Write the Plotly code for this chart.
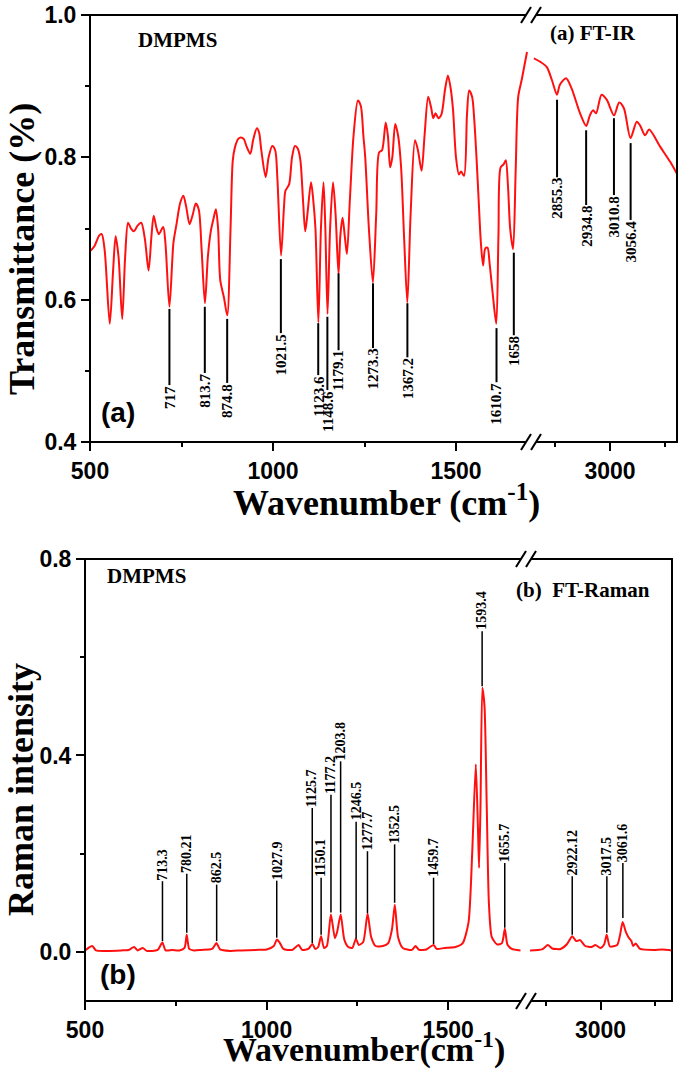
import plotly.graph_objects as go

W, H = 685, 1071

# ---------------- FT-IR data (wavenumber, transmittance) ----------------
ir_left_wn = [500, 512, 525, 532, 540, 554, 563, 570, 578, 588, 596, 604, 612, 620, 630, 640, 650, 660,
              668, 674, 682, 688, 700, 706, 717, 728, 737, 746, 755, 763, 772, 781, 789, 797, 805, 814,
              822, 830, 838, 844, 850, 856, 866, 875, 884, 890, 896, 905, 912, 920, 928, 938, 946, 956,
              962, 968, 980, 988, 998, 1006, 1012, 1022, 1030, 1034, 1044, 1052, 1060, 1068, 1075, 1082,
              1088, 1094, 1104, 1110, 1116, 1124, 1131, 1138, 1143, 1149, 1156, 1164, 1171, 1179, 1184,
              1190, 1196, 1202, 1210, 1220, 1232, 1240, 1247, 1252, 1262, 1273, 1282, 1290, 1298, 1308,
              1314, 1320, 1326, 1334, 1342, 1350, 1358, 1367, 1376, 1388, 1396, 1406, 1414, 1424, 1432,
              1438, 1444, 1452, 1460, 1470, 1478, 1486, 1492, 1500, 1508, 1514, 1522, 1530, 1536, 1544,
              1550, 1556, 1562, 1568, 1574, 1580, 1586, 1592, 1600, 1610, 1616, 1622, 1630, 1636, 1642,
              1648, 1656, 1663, 1670, 1680, 1694]
ir_left_t = [0.668, 0.675, 0.690, 0.692, 0.670, 0.566, 0.640, 0.689, 0.660, 0.573, 0.660, 0.708, 0.700,
             0.696, 0.704, 0.708, 0.685, 0.641, 0.690, 0.718, 0.700, 0.692, 0.702, 0.680, 0.590, 0.680,
             0.708, 0.735, 0.746, 0.730, 0.706, 0.720, 0.735, 0.727, 0.670, 0.595, 0.660, 0.696, 0.715,
             0.727, 0.700, 0.627, 0.603, 0.578, 0.700, 0.795, 0.814, 0.826, 0.828, 0.826, 0.815, 0.805,
             0.825, 0.841, 0.835, 0.810, 0.772, 0.800, 0.816, 0.810, 0.770, 0.662, 0.730, 0.753, 0.762,
             0.800, 0.816, 0.812, 0.795, 0.740, 0.696, 0.720, 0.765, 0.740, 0.700, 0.568, 0.700, 0.765,
             0.700, 0.580, 0.700, 0.765, 0.720, 0.636, 0.690, 0.715, 0.690, 0.664, 0.740, 0.830, 0.880,
             0.872, 0.830, 0.800, 0.700, 0.624, 0.720, 0.807, 0.810, 0.849, 0.830, 0.786, 0.800, 0.847,
             0.830, 0.786, 0.690, 0.596, 0.720, 0.824, 0.810, 0.781, 0.830, 0.885, 0.870, 0.855, 0.862,
             0.855, 0.860, 0.895, 0.915, 0.895, 0.866, 0.800, 0.776, 0.780, 0.774, 0.860, 0.894, 0.885,
             0.852, 0.800, 0.739, 0.680, 0.648, 0.672, 0.673, 0.650, 0.610, 0.566, 0.690, 0.786, 0.790,
             0.796, 0.760, 0.700, 0.671, 0.780, 0.885, 0.910, 0.948]
ir_right_wn = [2792, 2810, 2827, 2841, 2855, 2863, 2880, 2895, 2918, 2935, 2945, 2954, 2962, 2977, 2991,
               3011, 3025, 3038, 3056, 3073, 3082, 3096, 3107, 3137, 3164, 3183]
ir_right_t = [0.939, 0.934, 0.927, 0.909, 0.888, 0.902, 0.911, 0.897, 0.862, 0.844, 0.859, 0.866, 0.862,
              0.888, 0.881, 0.859, 0.877, 0.869, 0.827, 0.850, 0.845, 0.831, 0.839, 0.815, 0.794, 0.777]

# ---------------- FT-Raman data (wavenumber, intensity) ----------------
raman_left_wn = [500, 520, 530, 560, 600, 620, 635, 645, 659, 670, 700, 713, 722, 740, 760, 774, 780, 787,
                 800, 820, 850, 862, 872, 900, 930, 970, 1000, 1020, 1028, 1036, 1046, 1070, 1088, 1098,
                 1115, 1126, 1134, 1142, 1150, 1158, 1166, 1177, 1188, 1194, 1204, 1214, 1225, 1236, 1246,
                 1254, 1266, 1278, 1288, 1300, 1320, 1335, 1345, 1353, 1362, 1375, 1400, 1410, 1420, 1440,
                 1450, 1460, 1468, 1490, 1520, 1540, 1556, 1566, 1576, 1582, 1585, 1589, 1594, 1600, 1606,
                 1612, 1620, 1635, 1648, 1656, 1663, 1675, 1699]
raman_left_i = [0.003, 0.012, 0.003, 0.002, 0.003, 0.004, 0.010, 0.003, 0.008, 0.002, 0.004, 0.019, 0.003,
                0.004, 0.003, 0.008, 0.035, 0.006, 0.003, 0.004, 0.006, 0.018, 0.005, 0.002, 0.003, 0.004,
                0.005, 0.012, 0.025, 0.019, 0.006, 0.004, 0.014, 0.004, 0.006, 0.016, 0.006, 0.010, 0.032,
                0.008, 0.012, 0.076, 0.028, 0.040, 0.076, 0.025, 0.010, 0.008, 0.027, 0.014, 0.020, 0.078,
                0.030, 0.012, 0.012, 0.018, 0.045, 0.096, 0.030, 0.008, 0.004, 0.012, 0.004, 0.005, 0.010,
                0.014, 0.006, 0.008, 0.010, 0.018, 0.060, 0.200, 0.382, 0.250, 0.171, 0.300, 0.538, 0.500,
                0.300, 0.100, 0.030, 0.015, 0.018, 0.047, 0.015, 0.006, 0.003]
raman_right_wn = [2806, 2839, 2855, 2867, 2890, 2908, 2922, 2933, 2944, 2958, 2975, 2986, 3000, 3010, 3017,
                  3026, 3046, 3054, 3061, 3070, 3077, 3085, 3090, 3097, 3109, 3147, 3170, 3197]
raman_right_i = [0.003, 0.005, 0.014, 0.007, 0.006, 0.016, 0.032, 0.022, 0.024, 0.012, 0.010, 0.014, 0.008,
                 0.015, 0.035, 0.011, 0.014, 0.035, 0.061, 0.040, 0.030, 0.022, 0.012, 0.017, 0.006, 0.004,
                 0.005, 0.003]

# ---------------- peak labels ----------------
ir_labels = ["717", "813.7", "874.8", "1021.5", "1123.6", "1148.6", "1179.1", "1273.3", "1367.2",
             "1610.7", "1658", "2855.3", "2934.8", "3010.8", "3056.4"]
ir_line_top = [0.587, 0.590, 0.573, 0.657, 0.567, 0.576, 0.637, 0.623, 0.595, 0.560, 0.666,
               0.881, 0.838, 0.855, 0.820]
ir_line_bottom = [0.480, 0.497, 0.483, 0.553, 0.494, 0.473, 0.529, 0.532, 0.519, 0.484, 0.550,
                  0.772, 0.733, 0.747, 0.712]

raman_labels = ["713.3", "780.21", "862.5", "1027.9", "1125.7", "1150.1", "1177.2", "1203.8", "1246.5",
                "1277.7", "1352.5", "1459.7", "1593.4", "1655.7", "2922.12", "3017.5", "3061.6"]
raman_line_bottom = [0.022, 0.039, 0.022, 0.029, 0.018, 0.035, 0.080, 0.080, 0.027, 0.079, 0.100, 0.016,
                     0.541, 0.049, 0.035, 0.039, 0.069]
raman_line_top = [0.144, 0.159, 0.137, 0.145, 0.293, 0.151, 0.320, 0.388, 0.265, 0.205, 0.219, 0.151,
                  0.653, 0.181, 0.154, 0.154, 0.181]


def fx(p):
    return p / W


def fy(p):
    return 1 - p / H


RED = "#ff1010"
SERIF = "Liberation Serif"
SANS = "Liberation Sans"

fig = go.Figure()
fig.add_trace(go.Scatter(x=ir_left_wn, y=ir_left_t, xaxis="x", yaxis="y", mode="lines",
                         line=dict(color=RED, width=2, shape="spline", smoothing=0.8)))
fig.add_trace(go.Scatter(x=ir_right_wn, y=ir_right_t, xaxis="x2", yaxis="y", mode="lines",
                         line=dict(color=RED, width=2, shape="spline", smoothing=0.8)))
fig.add_trace(go.Scatter(x=raman_left_wn, y=raman_left_i, xaxis="x3", yaxis="y2", mode="lines",
                         line=dict(color=RED, width=2, shape="spline", smoothing=0.6)))
fig.add_trace(go.Scatter(x=raman_right_wn, y=raman_right_i, xaxis="x4", yaxis="y2", mode="lines",
                         line=dict(color=RED, width=2, shape="spline", smoothing=0.6)))

tickfont = dict(family=SANS, size=23, color="black", weight="bold")
common = dict(showgrid=False, zeroline=False, showline=False, ticks="outside", ticklen=8, tickwidth=2,
              tickcolor="black", tickfont=tickfont, fixedrange=True, automargin=False)


def minor(vals):
    return dict(tickmode="array", tickvals=vals, ticks="outside", ticklen=4, tickwidth=2,
                tickcolor="black", showgrid=False)


fig.update_layout(
    width=W, height=H, autosize=False,
    margin=dict(l=0, r=0, t=0, b=0, autoexpand=False),
    paper_bgcolor="white", plot_bgcolor="white",
    showlegend=False,
    xaxis=dict(domain=[fx(90), fx(530)], range=[500, 1702.2], anchor="y",
               tickmode="array", tickvals=[500, 1000, 1500], minor=minor([750, 1250]), **common),
    xaxis2=dict(domain=[fx(533), fx(677)], range=[2789.6, 3183.1], anchor="y",
                tickmode="array", tickvals=[3000], minor=minor([2850, 3150]), **common),
    yaxis=dict(domain=[fy(442), fy(15)], range=[0.4, 1.0], anchor="x",
               tickmode="array", tickvals=[0.4, 0.6, 0.8, 1.0], ticktext=["0.4", "0.6", "0.8", "1.0"],
               minor=minor([0.5, 0.7, 0.9]), **common),
    xaxis3=dict(domain=[fx(85), fx(524)], range=[500, 1708.7], anchor="y2",
                tickmode="array", tickvals=[500, 1000, 1500], minor=minor([750, 1250]), **common),
    xaxis4=dict(domain=[fx(527), fx(672)], range=[2797.6, 3196.9], anchor="y2",
                tickmode="array", tickvals=[3000], minor=minor([2850, 3150]), **common),
    yaxis2=dict(domain=[fy(1001), fy(559)], range=[-0.1, 0.8], anchor="x3",
                tickmode="array", tickvals=[0.0, 0.4, 0.8], ticktext=["0.0", "0.4", "0.8"],
                minor=minor([0.2, 0.6]), **common),
)

shapes = []
annotations = []

# frames
for (x0, y0, x1, y1) in [(90, 15, 677, 442), (85, 559, 672, 1001)]:
    shapes.append(dict(type="rect", xref="paper", yref="paper", x0=fx(x0), x1=fx(x1), y0=fy(y1), y1=fy(y0),
                       line=dict(color="black", width=2), layer="above"))

# axis breaks (//)
for bx, ys in [(531, (15, 442)), (526, (559, 1001))]:
    for yl in ys:
        shapes.append(dict(type="rect", xref="paper", yref="paper", x0=fx(bx - 5), x1=fx(bx + 5),
                           y0=fy(yl + 3), y1=fy(yl - 3), line=dict(width=0), fillcolor="white", layer="above"))
        for off in (-5, 5):
            shapes.append(dict(type="line", xref="paper", yref="paper",
                               x0=fx(bx + off - 5), y0=fy(yl + 8), x1=fx(bx + off + 5), y1=fy(yl - 8),
                               line=dict(color="black", width=2), layer="above"))

# IR peak markers
for lab, top, bot in zip(ir_labels, ir_line_top, ir_line_bottom):
    v = float(lab)
    xr = "x2" if v > 2000 else "x"
    shapes.append(dict(type="line", xref=xr, yref="y", x0=v, x1=v, y0=bot, y1=top,
                       line=dict(color="black", width=2)))
    annotations.append(dict(x=v, y=bot, xref=xr, yref="y", text=lab, showarrow=False, textangle=-90,
                            xanchor="center", yanchor="top", borderpad=0,
                            font=dict(family=SERIF, size=15, color="black", weight="bold")))

# Raman peak markers
for lab, bot, top in zip(raman_labels, raman_line_bottom, raman_line_top):
    v = float(lab)
    xr = "x4" if v > 2000 else "x3"
    shapes.append(dict(type="line", xref=xr, yref="y2", x0=v, x1=v, y0=bot, y1=top,
                       line=dict(color="black", width=1.5)))
    annotations.append(dict(x=v, y=top, xref=xr, yref="y2", text=lab, showarrow=False, textangle=-90,
                            xanchor="center", yanchor="bottom", borderpad=0,
                            font=dict(family=SERIF, size=14, color="black", weight="bold")))


def txt(x, y, text, size, family=SERIF, angle=0, yanchor="middle"):
    annotations.append(dict(x=fx(x), y=fy(y), xref="paper", yref="paper", text=text, showarrow=False,
                            textangle=angle, xanchor="center", yanchor=yanchor, borderpad=0,
                            font=dict(family=family, size=size, color="black", weight="bold")))


txt(22, 249, "Transmittance (%)", 36, angle=-90)
txt(386, 500, "Wavenumber (cm<sup>-1</sup>)", 36)
txt(177, 40, "DMPMS", 21)
txt(593, 33, "(a) FT-IR", 21)
txt(118, 413, "(a)", 28, family=SANS)

txt(21, 790, "Raman intensity", 36, angle=-90)
txt(364, 1070, "Wavenumber(cm<sup>-1</sup>)", 34, yanchor="bottom")
txt(146, 576, "DMPMS", 21)
txt(583, 590, "(b)  FT-Raman", 21)
txt(118, 974, "(b)", 28, family=SANS)

fig.update_layout(shapes=shapes, annotations=annotations)
fig.write_html("out.html", config={"displayModeBar": False},
               post_script="document.body.style.margin='0';document.body.style.overflow='hidden';")
